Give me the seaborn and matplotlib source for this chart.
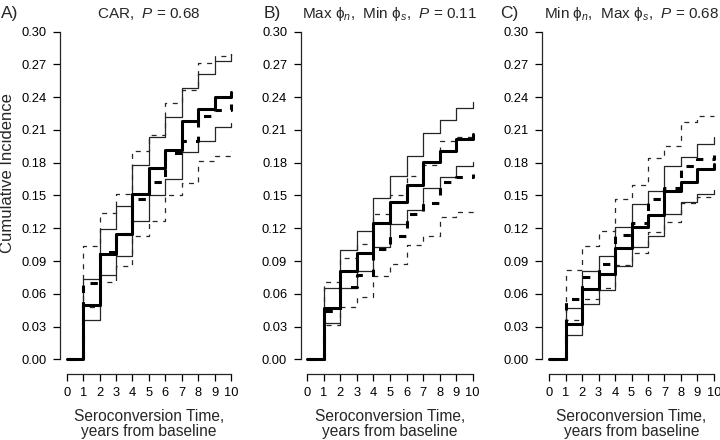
import matplotlib
matplotlib.use("Agg")
import matplotlib.pyplot as plt
import seaborn as sns
import numpy as np
import pandas as pd

# ---------------- data ----------------
years = [0, 1, 2, 3, 4, 5, 6, 7, 8, 9, 10]
x_ticks = [0, 1, 2, 3, 4, 5, 6, 7, 8, 9, 10]
y_ticks = [0.00, 0.03, 0.06, 0.09, 0.12, 0.15, 0.18, 0.21, 0.24, 0.27, 0.30]

panel_letters = ["A)", "B)", "C)"]
panel_titles = [
    r"CAR,  $P$ = 0.68",
    r"Max $\mathrm{\phi}_{n}$,  Min $\mathrm{\phi}_{s}$,  $P$ = 0.11",
    r"Min $\mathrm{\phi}_{n}$,  Max $\mathrm{\phi}_{s}$,  $P$ = 0.68",
]

# Panel A
A_est_solid = [0, 0.050, 0.096, 0.115, 0.151, 0.175, 0.192, 0.218, 0.229, 0.240, 0.245]
A_est_dash  = [0, 0.0695, 0.098, 0.115, 0.147, 0.162, 0.189, 0.200, 0.223, 0.228, 0.234]
A_up_solid  = [0, 0.0735, 0.119, 0.140, 0.178, 0.204, 0.222, 0.248, 0.261, 0.273, 0.280]
A_lo_solid  = [0, 0.036, 0.077, 0.0945, 0.127, 0.150, 0.165, 0.190, 0.200, 0.213, 0.216]
A_up_dash   = [0, 0.104, 0.134, 0.151, 0.191, 0.205, 0.2345, 0.247, 0.271, 0.2775, 0.280]
A_lo_dash   = [0, 0.0476, 0.071, 0.085, 0.113, 0.1265, 0.150, 0.1616, 0.182, 0.186, 0.191]

# Panel B
B_est_solid = [0, 0.0473, 0.081, 0.097, 0.125, 0.144, 0.160, 0.181, 0.191, 0.202, 0.2067]
B_est_dash  = [0, 0.044, 0.0665, 0.077, 0.1006, 0.113, 0.133, 0.143, 0.1625, 0.167, 0.170]
B_up_solid  = [0, 0.065, 0.100, 0.1177, 0.148, 0.168, 0.186, 0.207, 0.2195, 0.2305, 0.2357]
B_lo_solid  = [0, 0.033, 0.065, 0.081, 0.103, 0.1238, 0.1366, 0.157, 0.167, 0.177, 0.181]
B_up_dash   = [0, 0.071, 0.0924, 0.106, 0.1335, 0.150, 0.1677, 0.1775, 0.200, 0.2037, 0.205]
B_lo_dash   = [0, 0.0314, 0.0476, 0.0573, 0.076, 0.0872, 0.1046, 0.1128, 0.1305, 0.135, 0.1366]

# Panel C
C_est_solid = [0, 0.032, 0.064, 0.078, 0.1015, 0.1207, 0.1326, 0.154, 0.1625, 0.1747, 0.179]
C_est_dash  = [0, 0.0553, 0.0756, 0.087, 0.1137, 0.125, 0.1466, 0.157, 0.177, 0.183, 0.187]
C_up_solid  = [0, 0.0466, 0.081, 0.0947, 0.1213, 0.1418, 0.154, 0.177, 0.1854, 0.1976, 0.2037]
C_lo_solid  = [0, 0.022, 0.0505, 0.0635, 0.0857, 0.1024, 0.1128, 0.1335, 0.144, 0.151, 0.155]
C_up_dash   = [0, 0.0815, 0.104, 0.1175, 0.147, 0.160, 0.1845, 0.195, 0.2174, 0.2226, 0.2226]
C_lo_dash   = [0, 0.0363, 0.055, 0.065, 0.086, 0.0976, 0.1168, 0.126, 0.1427, 0.149, 0.150]

panels = [
    dict(est_solid=A_est_solid, est_dash=A_est_dash, up_solid=A_up_solid,
         lo_solid=A_lo_solid, up_dash=A_up_dash, lo_dash=A_lo_dash),
    dict(est_solid=B_est_solid, est_dash=B_est_dash, up_solid=B_up_solid,
         lo_solid=B_lo_solid, up_dash=B_up_dash, lo_dash=B_lo_dash),
    dict(est_solid=C_est_solid, est_dash=C_est_dash, up_solid=C_up_solid,
         lo_solid=C_lo_solid, up_dash=C_up_dash, lo_dash=C_lo_dash),
]

# ---------------- style ----------------
sns.set_style("ticks")
plt.rcParams["font.family"] = ["Liberation Sans", "DejaVu Sans"]
plt.rcParams["mathtext.fontset"] = "custom"
plt.rcParams["mathtext.rm"] = "Liberation Sans"
plt.rcParams["mathtext.it"] = "Liberation Sans:italic"
plt.rcParams["mathtext.bf"] = "Liberation Sans:bold"
plt.rcParams["axes.linewidth"] = 0.9

W, H = 720, 440
fig = plt.figure(figsize=(W / 100, H / 100), dpi=100)
fig.patch.set_facecolor("white")

ax_left_px = [66.7, 307.3, 549.0]
ax_width_px = [164.3, 165.4, 165.0]
ax_top_px, ax_bot_px = 31.7, 359.3
letter_x_px = [1, 264, 500]

thin_lw, thick_lw = 0.9, 2.2
styles = {
    "up_solid": dict(color="#262626", lw=thin_lw, linestyle="-"),
    "lo_solid": dict(color="#262626", lw=thin_lw, linestyle="-"),
    "up_dash": dict(color="#262626", lw=thin_lw, linestyle=(0, (4.0, 4.5))),
    "lo_dash": dict(color="#262626", lw=thin_lw, linestyle=(0, (4.0, 4.5))),
    "est_dash": dict(color="black", lw=thick_lw, linestyle=(0, (2.4, 3.0))),
    "est_solid": dict(color="black", lw=thick_lw, linestyle="-"),
}
order = ["up_dash", "lo_dash", "up_solid", "lo_solid", "est_dash", "est_solid"]

for i, pdata in enumerate(panels):
    ax = fig.add_axes([ax_left_px[i] / W, (H - ax_bot_px) / H,
                       ax_width_px[i] / W, (ax_bot_px - ax_top_px) / H])
    ax.set_facecolor("white")
    for key in order:
        df = pd.DataFrame({"years": years, "inc": pdata[key]})
        st = styles[key]
        sns.lineplot(data=df, x="years", y="inc", ax=ax, estimator=None,
                     errorbar=None, sort=False, drawstyle="steps-post",
                     color=st["color"], linewidth=st["lw"],
                     linestyle=st["linestyle"], clip_on=False, legend=False)
    ax.set_xlim(0, 10)
    ax.set_ylim(0, 0.30)
    ax.set_xticks(x_ticks)
    ax.set_xticklabels([str(t) for t in x_ticks])
    ax.set_yticks(y_ticks)
    ax.set_yticklabels([f"{t:.2f}" for t in y_ticks])
    ax.tick_params(axis="both", direction="out", length=5.2, width=0.9,
                   labelsize=9.3, colors="black")
    ax.tick_params(axis="y", pad=4.5)
    ax.tick_params(axis="x", pad=4.2)
    sns.despine(ax=ax, offset={"left": 4.8, "bottom": 10.5}, trim=False)
    ax.spines["left"].set_bounds(0, 0.30)
    ax.spines["bottom"].set_bounds(0, 10)
    ax.set_xlabel("Seroconversion Time,\nyears from baseline", fontsize=11.2,
                  labelpad=7, linespacing=1.05)
    ax.set_ylabel("")
    cx = (ax_left_px[i] + ax_width_px[i] / 2) / W
    fig.text(cx, 1 - 17.6 / H, panel_titles[i], ha="center", va="baseline",
             fontsize=11)
    fig.text(letter_x_px[i] / W, 1 - 17.6 / H, panel_letters[i], ha="left",
             va="baseline", fontsize=12.5)

fig.text(8 / W, 1 - 173 / H, "Cumulative Incidence", rotation=90,
         ha="center", va="center", fontsize=12)

fig.savefig("out.png", dpi=100, facecolor="white")
